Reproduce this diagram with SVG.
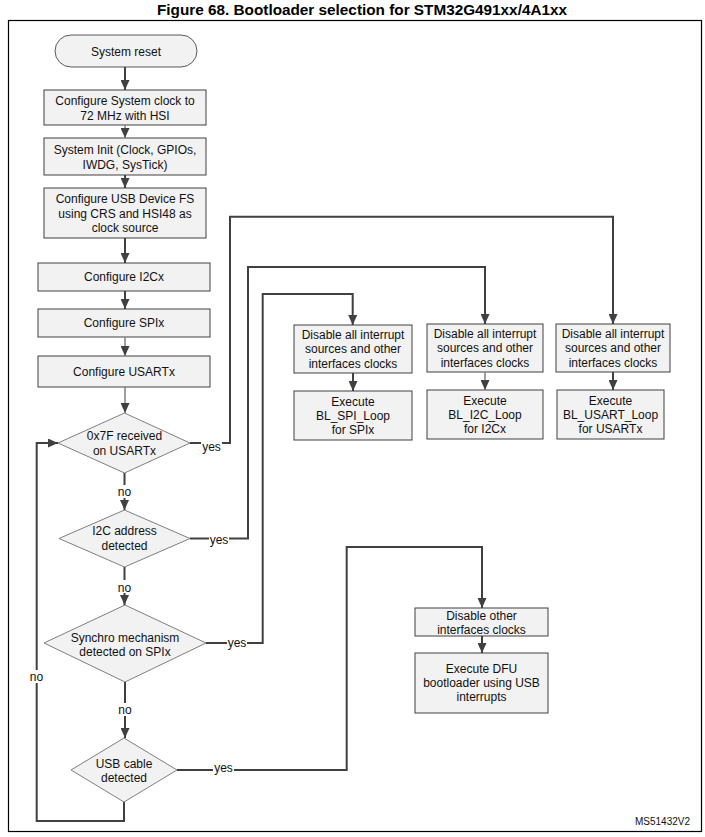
<svg xmlns="http://www.w3.org/2000/svg" width="705" height="837" viewBox="0 0 705 837">
<defs>
<marker id="ah" markerUnits="userSpaceOnUse" markerWidth="10" markerHeight="9" refX="10" refY="4.5" orient="auto">
<path d="M0,0 L10,4.5 L0,9 z" fill="#404040"/>
</marker>
</defs>
<style>
.box{fill:#f2f2f2;stroke:#404040;stroke-width:1}
.dia{fill:#f2f2f2;stroke:#7f7f7f;stroke-width:1}
.term{fill:#f2f2f2;stroke:#595959;stroke-width:1}
.t{font-family:"Liberation Sans",Arial,sans-serif;font-size:12px;fill:#111;text-anchor:middle}
.lb{font-family:"Liberation Sans",Arial,sans-serif;font-size:12px;fill:#111;text-anchor:middle}
.c{fill:none;stroke:#404040;stroke-width:2}
.cl{fill:none;stroke:#7f7f7f;stroke-width:1.5}
.title{font-family:"Liberation Sans",Arial,sans-serif;font-size:14px;font-weight:bold;fill:#000;text-anchor:middle}
</style>
<rect x="0" y="0" width="705" height="837" fill="#fff"/>
<text class="title" x="362" y="15" textLength="410" lengthAdjust="spacingAndGlyphs">Figure 68. Bootloader selection for STM32G491xx/4A1xx</text>
<rect x="8.5" y="20.5" width="693" height="811" fill="none" stroke="#000" stroke-width="1.2"/>

<g id="reset"><rect class="term" x="55" y="35" width="142" height="32" rx="16"/><text class="t" x="126" y="55.5">System reset</text></g>
<g id="sysclk"><rect class="box" x="44" y="90" width="162" height="35"/><text class="t" x="125" y="105">Configure System clock to</text><text class="t" x="125" y="119.5">72 MHz with HSI</text></g>
<g id="sysinit"><rect class="box" x="44" y="138" width="162" height="37"/><text class="t" x="125" y="154">System Init (Clock, GPIOs,</text><text class="t" x="125" y="168.5">IWDG, SysTick)</text></g>
<g id="usbcfg"><rect class="box" x="44" y="188" width="162" height="50"/><text class="t" x="125" y="203">Configure USB Device FS</text><text class="t" x="125" y="217.5">using CRS and HSI48 as</text><text class="t" x="125" y="232">clock source</text></g>
<g id="i2ccfg"><rect class="box" x="38" y="263" width="172" height="28"/><text class="t" x="124" y="281">Configure I2Cx</text></g>
<g id="spicfg"><rect class="box" x="38" y="309" width="172" height="28"/><text class="t" x="124" y="327">Configure SPIx</text></g>
<g id="usartcfg"><rect class="box" x="38" y="356" width="172" height="31"/><text class="t" x="124" y="375.5">Configure USARTx</text></g>

<g id="d1"><polygon class="dia" points="124.5,413 190,443 124.5,473 58,443"/><text class="t" x="124.5" y="439.5">0x7F received</text><text class="t" x="124.5" y="454.5">on USARTx</text></g>
<g id="d2"><polygon class="dia" points="124.5,510 190,538.5 124.5,567 59,538.5"/><text class="t" x="124.5" y="535">I2C address</text><text class="t" x="124.5" y="550">detected</text></g>
<g id="d3"><polygon class="dia" points="125,605 206,643 125,682 44,643"/><text class="t" x="125" y="642">Synchro mechanism</text><text class="t" x="125" y="656">detected on SPIx</text></g>
<g id="d4"><polygon class="dia" points="124,738 177,770 124,802 71,770"/><text class="t" x="124" y="767.5">USB cable</text><text class="t" x="124" y="781.5">detected</text></g>

<g id="spi_dis"><rect class="box" x="294" y="325" width="118" height="48"/><text class="t" x="353" y="338.5">Disable all interrupt</text><text class="t" x="353" y="353">sources and other</text><text class="t" x="353" y="367.5">interfaces clocks</text></g>
<g id="spi_exe"><rect class="box" x="294" y="391" width="118" height="49"/><text class="t" x="353" y="406">Execute</text><text class="t" x="353" y="420">BL_SPI_Loop</text><text class="t" x="353" y="434">for SPIx</text></g>
<g id="i2c_dis"><rect class="box" x="427" y="324" width="116" height="48"/><text class="t" x="485" y="337.5">Disable all interrupt</text><text class="t" x="485" y="352">sources and other</text><text class="t" x="485" y="366.5">interfaces clocks</text></g>
<g id="i2c_exe"><rect class="box" x="427" y="390" width="116" height="49"/><text class="t" x="485" y="405">Execute</text><text class="t" x="485" y="419">BL_I2C_Loop</text><text class="t" x="485" y="433">for I2Cx</text></g>
<g id="usart_dis"><rect class="box" x="556" y="324" width="114" height="48"/><text class="t" x="613" y="337.5">Disable all interrupt</text><text class="t" x="613" y="352">sources and other</text><text class="t" x="613" y="366.5">interfaces clocks</text></g>
<g id="usart_exe"><rect class="box" x="557" y="390" width="107" height="49"/><text class="t" x="610.5" y="404.5">Execute</text><text class="t" x="610.5" y="418.5">BL_USART_Loop</text><text class="t" x="610.5" y="432.5">for USARTx</text></g>
<g id="dfu_dis"><rect class="box" x="415" y="608" width="133" height="28"/><text class="t" x="481.5" y="619.5">Disable other</text><text class="t" x="481.5" y="633.5">interfaces clocks</text></g>
<g id="dfu_exe"><rect class="box" x="415" y="653" width="133" height="60"/><text class="t" x="481.5" y="673">Execute DFU</text><text class="t" x="481.5" y="687">bootloader using USB</text><text class="t" x="481.5" y="701">interrupts</text></g>

<g id="connectors">
<path class="c" d="M125,67 V90" marker-end="url(#ah)"/>
<path class="cl" d="M125,125 V138" marker-end="url(#ah)"/>
<path class="c" d="M125,175 V188" marker-end="url(#ah)"/>
<path class="c" d="M125,238 V263" marker-end="url(#ah)"/>
<path class="c" d="M125,291 V309" marker-end="url(#ah)"/>
<path class="cl" d="M125,337 V356" marker-end="url(#ah)"/>
<path class="cl" d="M125,387 V413" marker-end="url(#ah)"/>

<path class="c" d="M124.5,473 V485"/>
<path class="c" d="M124.5,498 V510" marker-end="url(#ah)"/>
<path class="c" d="M124.5,567 V580"/>
<path class="c" d="M124.5,593 V605" marker-end="url(#ah)"/>
<path class="c" d="M125,682 V703"/>
<path class="c" d="M125,716 V738" marker-end="url(#ah)"/>

<path class="c" d="M124,802 V821 H36.7 V683"/>
<path class="c" d="M36.7,670 V443 H58" marker-end="url(#ah)"/>

<path class="c" d="M190,443 H201"/>
<path class="c" d="M222,443 H230 V216.7 H613 V324" marker-end="url(#ah)"/>
<path class="c" d="M190,538.5 H209"/>
<path class="c" d="M229,538.5 H248 V267 H485 V324" marker-end="url(#ah)"/>
<path class="c" d="M206,643 H227"/>
<path class="c" d="M247,643 H262.7 V294 H352.7 V325" marker-end="url(#ah)"/>
<path class="c" d="M177,770 H213"/>
<path class="c" d="M234,770 H346.7 V547 H482 V608" marker-end="url(#ah)"/>

<path class="c" d="M353,373 V391" marker-end="url(#ah)"/>
<path class="cl" d="M485,372 V390" marker-end="url(#ah)"/>
<path class="c" d="M613,372 V390" marker-end="url(#ah)"/>
<path class="c" d="M482,636 V653" marker-end="url(#ah)"/>

<text class="lb" x="211.5" y="451">yes</text>
<text class="lb" x="219" y="544">yes</text>
<text class="lb" x="237" y="647">yes</text>
<text class="lb" x="223.5" y="772">yes</text>
<text class="lb" x="124.5" y="496">no</text>
<text class="lb" x="124.5" y="591.5">no</text>
<text class="lb" x="125" y="714">no</text>
<text class="lb" x="36.5" y="680.5">no</text>
</g>
<text x="690" y="825" font-family="'Liberation Sans',Arial,sans-serif" font-size="10" fill="#111" text-anchor="end">MS51432V2</text>
</svg>
